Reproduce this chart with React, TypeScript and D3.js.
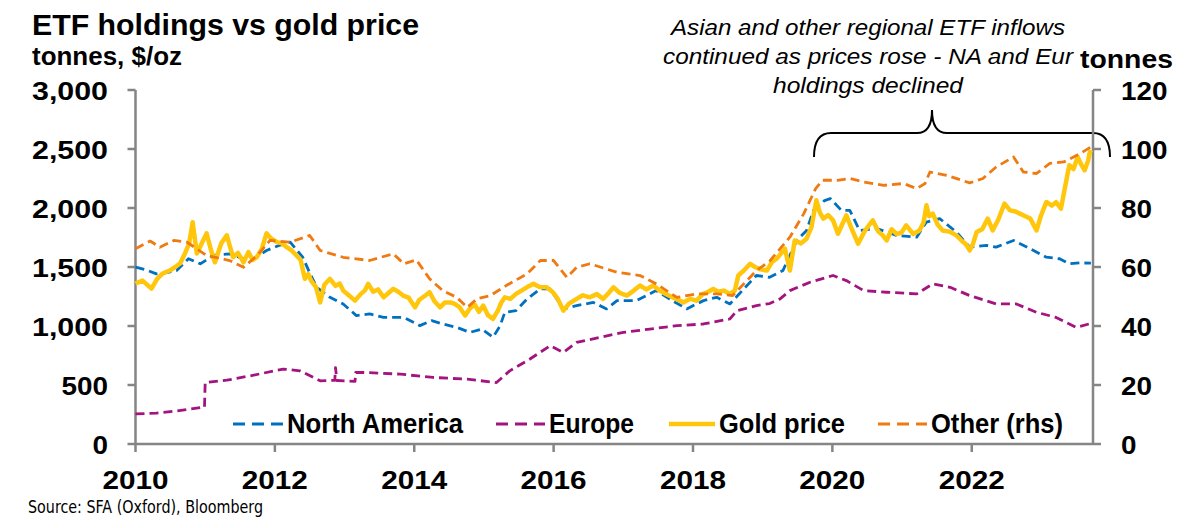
import * as d3 from "d3";

type Pt = [number, number];

// gold price, $/oz (lhs)
const goldPrice: Pt[] = [
  [2010.0, 1360], [2010.1, 1385], [2010.23, 1317], [2010.31, 1400], [2010.39, 1445], [2010.49, 1470],
  [2010.57, 1500], [2010.64, 1530], [2010.71, 1615], [2010.77, 1700], [2010.82, 1880], [2010.88, 1615],
  [2010.95, 1700], [2011.02, 1785], [2011.08, 1650], [2011.14, 1540], [2011.23, 1700], [2011.31, 1768],
  [2011.4, 1583], [2011.47, 1620], [2011.55, 1540], [2011.62, 1626], [2011.68, 1560], [2011.74, 1583],
  [2011.81, 1650], [2011.88, 1785], [2011.95, 1740], [2012.03, 1711], [2012.1, 1700], [2012.17, 1668],
  [2012.24, 1640], [2012.31, 1598], [2012.37, 1560], [2012.43, 1400], [2012.48, 1440], [2012.52, 1385],
  [2012.59, 1330], [2012.65, 1200], [2012.71, 1350], [2012.79, 1400], [2012.87, 1340], [2012.93, 1360],
  [2012.98, 1300], [2013.06, 1260], [2013.15, 1215], [2013.23, 1270], [2013.29, 1300], [2013.34, 1357],
  [2013.41, 1290], [2013.48, 1310], [2013.56, 1243], [2013.63, 1280], [2013.7, 1315], [2013.77, 1290],
  [2013.84, 1258], [2013.92, 1240], [2014.01, 1158], [2014.07, 1220], [2014.14, 1250], [2014.22, 1286],
  [2014.29, 1210], [2014.37, 1158], [2014.44, 1200], [2014.52, 1200], [2014.58, 1187], [2014.65, 1160],
  [2014.73, 1088], [2014.8, 1150], [2014.87, 1180], [2014.93, 1120], [2014.99, 1173], [2015.06, 1090],
  [2015.13, 1060], [2015.2, 1130], [2015.25, 1200], [2015.3, 1243], [2015.38, 1230], [2015.46, 1272],
  [2015.54, 1300], [2015.62, 1330], [2015.71, 1357], [2015.8, 1330], [2015.9, 1328], [2015.99, 1286],
  [2016.06, 1230], [2016.14, 1130], [2016.22, 1190], [2016.33, 1230], [2016.42, 1260], [2016.52, 1243],
  [2016.62, 1270], [2016.71, 1230], [2016.79, 1280], [2016.86, 1328], [2016.95, 1280], [2017.05, 1258],
  [2017.15, 1300], [2017.24, 1343], [2017.33, 1310], [2017.43, 1343], [2017.52, 1300], [2017.61, 1272],
  [2017.72, 1240], [2017.79, 1220], [2017.86, 1200], [2017.96, 1230], [2018.05, 1215], [2018.14, 1270],
  [2018.22, 1290], [2018.29, 1315], [2018.36, 1290], [2018.44, 1300], [2018.53, 1272], [2018.6, 1300],
  [2018.65, 1428], [2018.73, 1470], [2018.82, 1527], [2018.89, 1500], [2018.97, 1480], [2019.06, 1470],
  [2019.13, 1540], [2019.2, 1570], [2019.27, 1620], [2019.32, 1655], [2019.39, 1470], [2019.46, 1725],
  [2019.55, 1700], [2019.63, 1740], [2019.7, 1838], [2019.77, 2065], [2019.82, 1960], [2019.87, 1910],
  [2019.94, 1940], [2020.01, 1895], [2020.08, 1782], [2020.14, 1860], [2020.2, 1938], [2020.28, 1820],
  [2020.37, 1697], [2020.46, 1800], [2020.52, 1850], [2020.58, 1895], [2020.66, 1800], [2020.72, 1770],
  [2020.78, 1725], [2020.85, 1820], [2020.92, 1780], [2020.99, 1790], [2021.06, 1853], [2021.16, 1780],
  [2021.25, 1810], [2021.31, 1880], [2021.35, 2023], [2021.39, 1930], [2021.44, 1952], [2021.51, 1860],
  [2021.58, 1810], [2021.68, 1800], [2021.78, 1768], [2021.86, 1720], [2021.92, 1690], [2021.97, 1640],
  [2022.02, 1700], [2022.07, 1796], [2022.15, 1820], [2022.23, 1910], [2022.3, 1810], [2022.38, 1900],
  [2022.47, 2037], [2022.55, 1980], [2022.63, 1970], [2022.69, 1952], [2022.77, 1930], [2022.84, 1910],
  [2022.93, 1810], [2022.99, 1930], [2023.07, 2051], [2023.15, 2020], [2023.21, 2050], [2023.28, 1995],
  [2023.33, 2150], [2023.4, 2363], [2023.46, 2330], [2023.52, 2433], [2023.57, 2370], [2023.62, 2320],
  [2023.67, 2400], [2023.69, 2462], [2023.71, 2490],
];

// North America ETF holdings, tonnes (lhs)
const northAmerica: Pt[] = [
  [2010.0, 1498], [2010.13, 1480], [2010.3, 1442], [2010.43, 1450], [2010.59, 1470], [2010.76, 1570],
  [2010.93, 1527], [2011.12, 1598], [2011.35, 1612], [2011.5, 1580], [2011.65, 1555], [2011.88, 1640],
  [2012.05, 1680], [2012.22, 1711], [2012.4, 1583], [2012.5, 1450], [2012.6, 1328], [2012.79, 1243],
  [2012.98, 1187], [2013.17, 1088], [2013.36, 1102], [2013.56, 1073], [2013.85, 1073], [2014.08, 1003],
  [2014.25, 1045], [2014.41, 1017], [2014.61, 988], [2014.8, 946], [2014.97, 974], [2015.13, 904],
  [2015.23, 1000], [2015.3, 1116], [2015.46, 1130], [2015.62, 1230], [2015.81, 1315], [2015.95, 1315],
  [2016.14, 1145], [2016.33, 1173], [2016.57, 1200], [2016.76, 1145], [2016.91, 1215], [2017.19, 1215],
  [2017.47, 1300], [2017.66, 1230], [2017.91, 1145], [2018.15, 1215], [2018.34, 1243], [2018.53, 1187],
  [2018.73, 1315], [2018.91, 1428], [2019.1, 1413], [2019.29, 1470], [2019.49, 1725], [2019.63, 1810],
  [2019.73, 1980], [2019.88, 2060], [2019.97, 2080], [2020.13, 1980], [2020.25, 1980], [2020.39, 1810],
  [2020.64, 1825], [2020.92, 1768], [2021.21, 1753], [2021.35, 1881], [2021.54, 1910], [2021.78, 1796],
  [2021.97, 1668], [2022.21, 1683], [2022.35, 1668], [2022.6, 1725], [2022.84, 1655], [2023.07, 1583],
  [2023.26, 1570], [2023.4, 1527], [2023.56, 1535], [2023.71, 1532],
];

// Europe ETF holdings, tonnes (lhs)
const europe: Pt[] = [
  [2010.0, 255], [2010.3, 262], [2010.59, 280], [2010.93, 308], [2010.99, 310], [2011.0, 521],
  [2011.31, 541], [2011.65, 578], [2012.12, 635], [2012.36, 620], [2012.65, 535], [2012.86, 540],
  [2012.87, 648], [2012.89, 538], [2013.03, 535], [2013.15, 530], [2013.16, 606], [2013.32, 606],
  [2013.8, 592], [2014.27, 564], [2014.76, 549], [2015.18, 521], [2015.37, 620], [2015.66, 720],
  [2015.95, 833], [2016.14, 776], [2016.33, 861], [2016.67, 904], [2017.0, 946], [2017.38, 974],
  [2017.77, 1003], [2018.15, 1017], [2018.53, 1060], [2018.63, 1130], [2018.91, 1173], [2019.1, 1190],
  [2019.25, 1230], [2019.39, 1300], [2019.68, 1371], [2020.01, 1428], [2020.2, 1385], [2020.45, 1300],
  [2020.78, 1286], [2021.21, 1272], [2021.44, 1357], [2021.69, 1328], [2021.97, 1258], [2022.35, 1187],
  [2022.64, 1187], [2022.93, 1116], [2023.21, 1073], [2023.5, 988], [2023.71, 1022],
];

// Other regions ETF holdings, tonnes (rhs)
const otherRhs: Pt[] = [
  [2010.0, 66.2], [2010.21, 68.8], [2010.35, 66.7], [2010.55, 69], [2010.74, 68.4], [2011.02, 63.9],
  [2011.35, 62.2], [2011.55, 59.9], [2011.75, 64], [2011.93, 69], [2012.22, 68.4], [2012.5, 70.7],
  [2012.65, 65.6], [2012.98, 63.3], [2013.36, 62.2], [2013.7, 64.5], [2013.85, 61.1], [2014.03, 62.4],
  [2014.22, 56], [2014.41, 52], [2014.61, 49.7], [2014.76, 46.3], [2014.9, 49.2], [2015.09, 50.3],
  [2015.32, 53.7], [2015.62, 57.7], [2015.81, 62.2], [2016.0, 62.2], [2016.19, 56.5], [2016.33, 59.9],
  [2016.52, 61.1], [2016.91, 58.2], [2017.24, 57.1], [2017.47, 54.3], [2017.77, 49.7], [2018.05, 50.9],
  [2018.34, 50.9], [2018.57, 50.3], [2018.73, 54.3], [2018.91, 58.8], [2019.1, 62], [2019.39, 70.1],
  [2019.59, 78.1], [2019.76, 86.6], [2019.86, 89.4], [2020.07, 89.4], [2020.25, 90], [2020.45, 88.8],
  [2020.74, 87.7], [2021.02, 88.3], [2021.21, 86.6], [2021.33, 88.3], [2021.4, 92.2], [2021.64, 91.1],
  [2021.97, 88.5], [2022.16, 90], [2022.35, 93.9], [2022.6, 97.3], [2022.74, 92.2], [2022.93, 91.7],
  [2023.12, 95.1], [2023.32, 95.6], [2023.56, 98.5], [2023.71, 100.7],
];

const leftTicks = [0, 500, 1000, 1500, 2000, 2500, 3000];
const rightTicks = [0, 20, 40, 60, 80, 100, 120];
const yearTicks = [2010, 2012, 2014, 2016, 2018, 2020, 2022];
const legendLabels = ["North America", "Europe", "Gold price", "Other (rhs)"];
const noteLines = [
  "Asian and other regional ETF inflows",
  "continued as prices rose - NA and Eur",
  "holdings declined",
];

const BLUE = "#0070C0";
const PURPLE = "#A3147F";
const GOLD = "#FFC60B";
const ORANGE = "#F07A12";
const AXIS = "#858585";
const FONT = "'Liberation Sans', Arial, sans-serif";
const NARROW = "'Liberation Sans Narrow', 'DejaVu Sans Condensed', sans-serif";

const Label = ({ x, y, w, size, anchor = "start", weight = "bold", italic = false, family = FONT, children }: any) => (
  <text
    x={x}
    y={y}
    fontSize={size}
    fontFamily={family}
    fontWeight={weight}
    fontStyle={italic ? "italic" : "normal"}
    textAnchor={anchor}
    textLength={w}
    lengthAdjust="spacingAndGlyphs"
    fill="#000"
  >
    {children}
  </text>
);

// rough width of a bold tick label
const tickWidth = (s: string) =>
  s.split("").reduce((a, c) => a + (c === "," ? 14 : 15.5), 0);

const App = () => {
  const x = d3.scaleLinear().domain([2010, 2023.74]).range([135.5, 1093]);
  const yL = d3.scaleLinear().domain([0, 3000]).range([444, 90]);
  const yR = d3.scaleLinear().domain([0, 120]).range([444, 90]);

  const lineL = d3.line<Pt>().x((d) => x(d[0])).y((d) => yL(d[1]));
  const lineR = d3.line<Pt>().x((d) => x(d[0])).y((d) => yR(d[1]));

  const fmt = d3.format(",");
  const x0 = x(2010);
  const x1 = x.range()[1];

  return (
    <svg
      width={1200}
      height={528}
      style={{ position: "absolute", left: 0, top: 0, background: "#fff" }}
    >
      <Label x={32} y={35} size={30} w={387}>ETF holdings vs gold price</Label>
      <Label x={32} y={65} size={26} w={150}>tonnes, $/oz</Label>
      <Label x={1080} y={68} size={26} w={93}>tonnes</Label>

      {noteLines.map((t, i) => (
        <Label
          key={t}
          x={868}
          y={35 + i * 29}
          size={22}
          anchor="middle"
          weight="normal"
          italic
          w={[394, 410, 190][i]}
        >
          {t}
        </Label>
      ))}
      <path
        d="M814,157 C814,143 818,133 831,133 L917,133 C927,133 932,126 932,110 C932,126 937,133 947,133 L1093,133 C1106,133 1110,143 1110,157"
        fill="none"
        stroke="#000"
        strokeWidth={2}
      />

      {/* axes */}
      <g stroke={AXIS} strokeWidth={2.5} fill="none">
        <line x1={x0} x2={x0} y1={yL(3000)} y2={yL(0)} />
        <line x1={x1} x2={x1} y1={yR(120)} y2={yR(0)} />
        <line x1={x0} x2={x1} y1={yL(0)} y2={yL(0)} />
        {leftTicks.map((t) => (
          <line key={t} x1={x0 - 8} x2={x0} y1={yL(t)} y2={yL(t)} />
        ))}
        {rightTicks.map((t) => (
          <line key={t} x1={x1} x2={x1 + 8} y1={yR(t)} y2={yR(t)} />
        ))}
        {yearTicks.map((t) => (
          <line key={t} x1={x(t)} x2={x(t)} y1={yL(0)} y2={yL(0) + 8} />
        ))}
      </g>
      {leftTicks.map((t) => (
        <Label key={t} x={108} y={yL(t) + 9.5} size={26} anchor="end" w={tickWidth(fmt(t))}>
          {fmt(t)}
        </Label>
      ))}
      {rightTicks.map((t) => (
        <Label key={t} x={1121} y={yR(t) + 9.5} size={26} w={tickWidth(String(t))}>
          {t}
        </Label>
      ))}
      {yearTicks.map((t) => (
        <Label key={t} x={x(t)} y={489} size={25} anchor="middle" w={66}>
          {t}
        </Label>
      ))}

      {/* series */}
      <g fill="none" strokeLinejoin="round">
        <path d={lineL(europe) || ""} stroke={PURPLE} strokeWidth={2.8} strokeDasharray="9 5" />
        <path d={lineL(northAmerica) || ""} stroke={BLUE} strokeWidth={2.8} strokeDasharray="9 5" />
        <path d={lineL(goldPrice) || ""} stroke={GOLD} strokeWidth={4.5} />
        <path d={lineR(otherRhs) || ""} stroke={ORANGE} strokeWidth={2.8} strokeDasharray="9 5" />
      </g>

      {/* legend */}
      <g>
        <line x1={233} x2={283} y1={424} y2={424} stroke={BLUE} strokeWidth={2.8} strokeDasharray="12 7" />
        <Label x={287} y={433} size={28} w={176}>{legendLabels[0]}</Label>
        <line x1={496} x2={545} y1={424} y2={424} stroke={PURPLE} strokeWidth={2.8} strokeDasharray="12 7" />
        <Label x={549} y={433} size={28} w={85}>{legendLabels[1]}</Label>
        <line x1={669} x2={715} y1={424} y2={424} stroke={GOLD} strokeWidth={4.5} />
        <Label x={719} y={433} size={28} w={126}>{legendLabels[2]}</Label>
        <line x1={878} x2={927} y1={424} y2={424} stroke={ORANGE} strokeWidth={2.8} strokeDasharray="12 7" />
        <Label x={931} y={433} size={28} w={132}>{legendLabels[3]}</Label>
      </g>

      <Label x={28} y={513} size={18} weight="normal" family={NARROW} w={235}>
        Source: SFA (Oxford), Bloomberg
      </Label>
    </svg>
  );
};

export default App;
